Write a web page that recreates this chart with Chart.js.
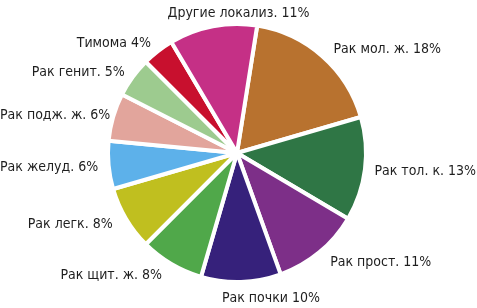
<!DOCTYPE html>
<html>
<head>
<meta charset="utf-8">
<script src="https://cdn.jsdelivr.net/npm/chart.js@4.4.1/dist/chart.umd.min.js"></script>
<style>
  html, body { margin: 0; padding: 0; background: #fff; }
  #wrap { width: 477px; height: 308px; position: relative; }
</style>
</head>
<body>
<div id="wrap"><canvas id="chart"></canvas></div>
<script>
const labels = ['Рак мол. ж.', 'Рак тол. к.', 'Рак прост.', 'Рак почки', 'Рак щит. ж.',
  'Рак легк.', 'Рак желуд.', 'Рак подж. ж.', 'Рак генит.', 'Тимома', 'Другие локализ.'];
const shares = [18, 13, 11, 10, 8, 8, 6, 6, 5, 4, 11];
const colors = ['#b8722f', '#2f7645', '#7d2f88', '#36217b', '#50a84a',
  '#c0bf1f', '#5db1ea', '#e2a59c', '#9dcb8f', '#c8102e', '#c53086'];

// draws "name NN%" outside each slice
const outsideLabels = {
  id: 'outsideLabels',
  afterDatasetsDraw(chart) {
    const ctx = chart.ctx;
    const arcs = chart.getDatasetMeta(0).data;
    ctx.save();
    ctx.font = '14px "Liberation Sans Narrow", "DejaVu Sans Condensed", sans-serif';
    ctx.fillStyle = '#1e1e1e';
    ctx.textBaseline = 'middle';
    arcs.forEach((arc, i) => {
      const mid = (arc.startAngle + arc.endAngle) / 2;
      const c = Math.cos(mid), s = Math.sin(mid);
      const r = arc.outerRadius + 9 + 6 * Math.pow(s, 4);
      const ax = arc.x + c * r, ay = arc.y + s * r + 1;
      const text = labels[i] + ' ' + shares[i] + '%';
      const w = ctx.measureText(text).width;
      // upper-left labels sit closer to the pie
      const push = (c < 0 && s < 0) ? 0 : c * 6;
      let left;
      if (Math.abs(c) < 0.3) left = ax - (s < 0 ? 0.3 : 0.2) * w;
      else if (c > 0) left = ax + push;
      else left = ax - w + push;
      left = Math.min(Math.max(left, 0), chart.width - w - 1);
      ctx.textAlign = 'left';
      ctx.fillText(text, left, ay);
    });
    ctx.restore();
  }
};

new Chart(document.getElementById('chart'), {
  type: 'pie',
  data: {
    labels: labels,
    datasets: [{
      data: shares,
      backgroundColor: colors,
      borderColor: '#ffffff',
      borderWidth: 4
    }]
  },
  options: {
    responsive: true,
    maintainAspectRatio: false,
    animation: false,
    rotation: 9,
    layout: { padding: { left: 105, right: 108, top: 22, bottom: 24 } },
    plugins: {
      legend: { display: false },
      tooltip: { enabled: false }
    }
  },
  plugins: [outsideLabels]
});
</script>
</body>
</html>
